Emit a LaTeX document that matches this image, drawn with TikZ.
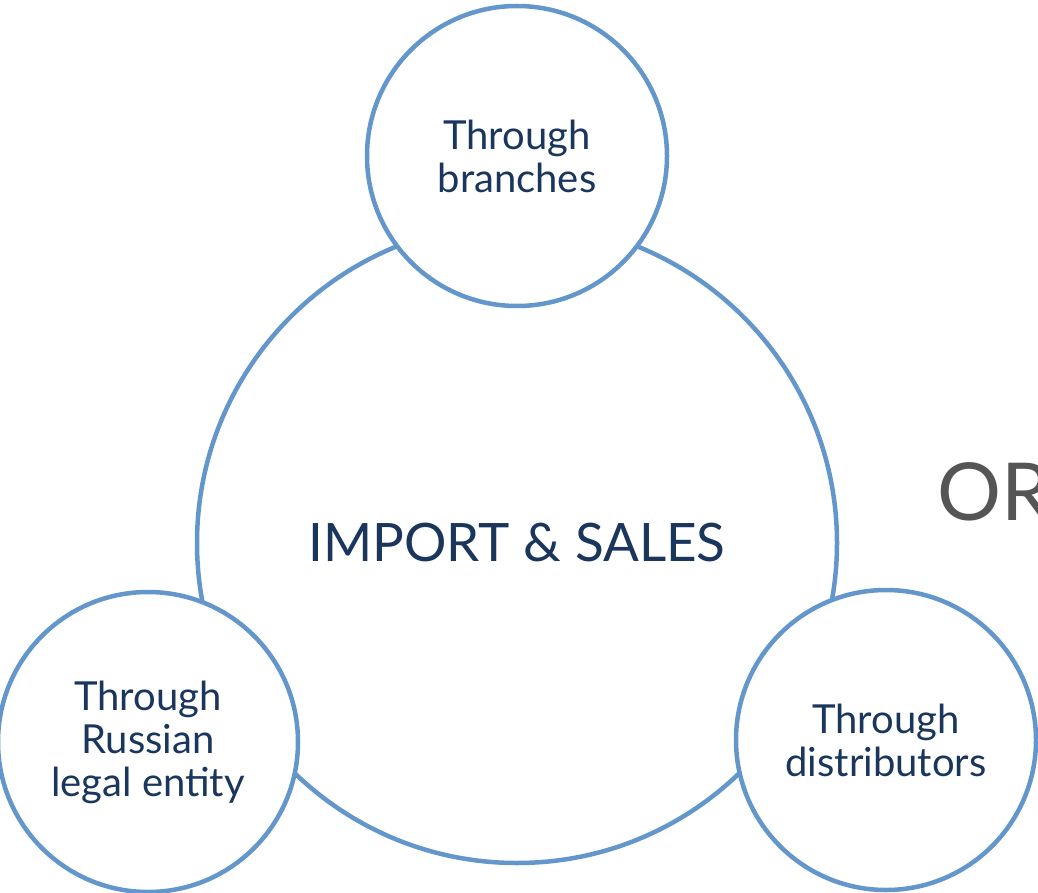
\documentclass[tikz,border=0pt]{standalone}
\usepackage{fontspec}
\setmainfont{Lato}
\definecolor{ringblue}{RGB}{99,150,203}
\definecolor{navy}{RGB}{27,54,93}
\definecolor{orgray}{RGB}{85,85,85}
\begin{document}
\begin{tikzpicture}[x=1pt,y=-1pt,
  ring/.style={circle,draw=ringblue,line width=4.5pt,fill=white,inner sep=0pt,text=navy,align=center},
  smalltext/.style={font=\fontsize{40}{43}\selectfont}]
\useasboundingbox (0,0) rectangle (1038,893);
\node[ring,minimum size=640pt,font=\fontsize{53}{60}\selectfont] (main) at (517,543) {IMPORT \& SALES};
\node[ring,minimum size=300pt,smalltext] (top) at (517,156) {Through\\branches};
\node[ring,minimum size=300pt,smalltext] (left) at (148,742) {Through\\Russian\\legal entity};
\node[ring,minimum size=300pt,smalltext] (right) at (886,740) {Through\\distributors};
\node[anchor=base west,text=orgray,font=\fontsize{80}{90}\selectfont,inner sep=0pt] (or) at (937,520) {OR};
\end{tikzpicture}
\end{document}
